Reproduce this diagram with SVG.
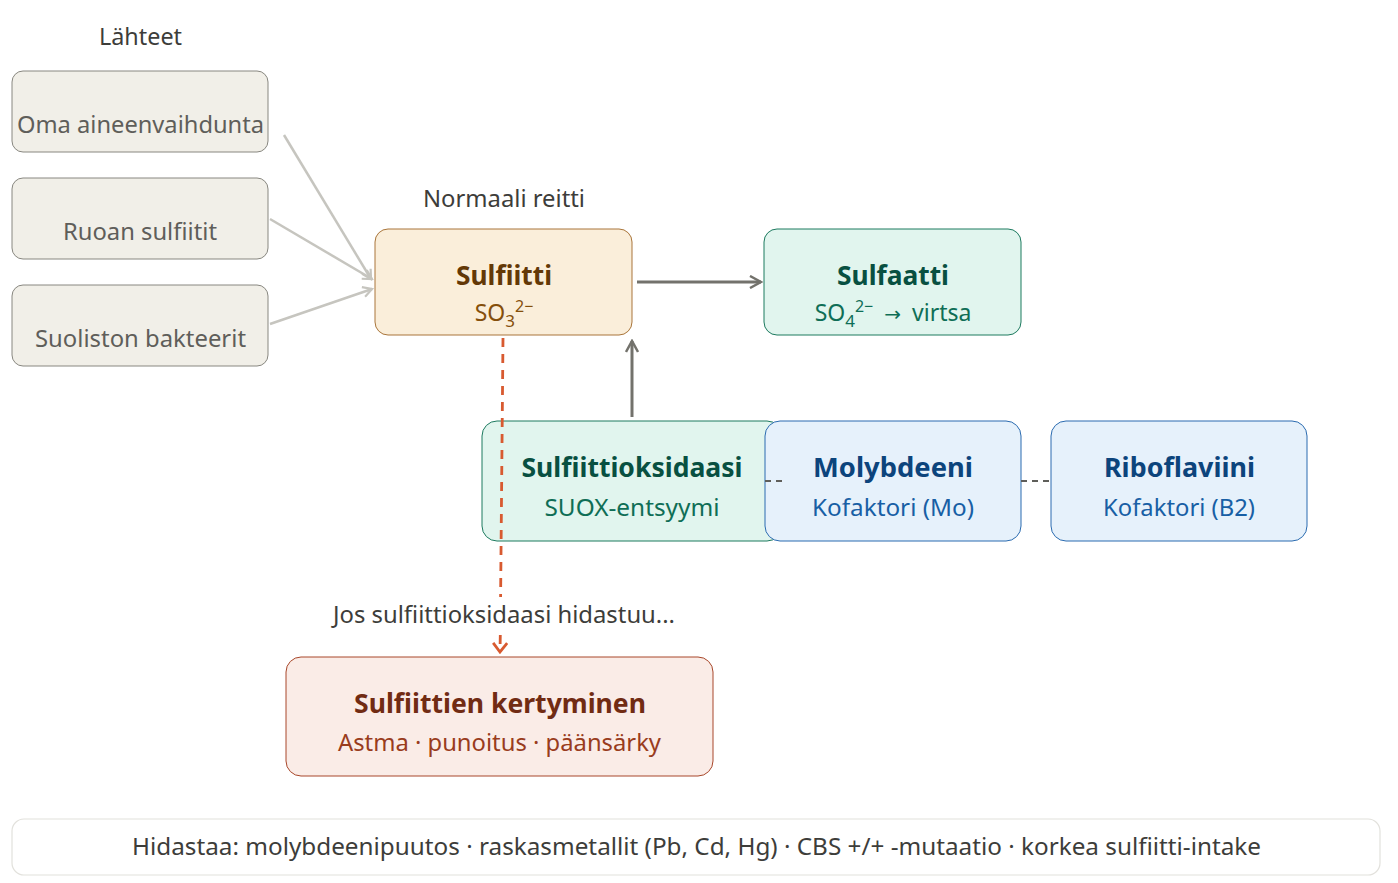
<svg xmlns="http://www.w3.org/2000/svg" width="1398" height="883" viewBox="0 0 1398 883">
<defs>
<style>
text{font-family:"Noto Sans","Open Sans","Liberation Sans",sans-serif;text-anchor:middle}
.lbl{font-size:23px;fill:#3d3d3a}
.src rect{fill:#f1efe8;stroke:#888780;stroke-width:1}
.src text{font-size:23px;fill:#5f5e5a}
.t{font-size:26px;font-weight:700}
.s{font-size:23px}
.amber rect{fill:#faeeda;stroke:#a9753a;stroke-width:1}
.amber .t{fill:#633806}.amber .s{fill:#854f0b}
.teal rect{fill:#e1f5ee;stroke:#1d7a5f;stroke-width:1}
.teal .t{fill:#085041}.teal .s{fill:#0f6e56}
.blue rect{fill:#e6f1fb;stroke:#2a6bb0;stroke-width:1}
.blue .t{fill:#0c447c}.blue .s{fill:#185fa5}
.coral rect{fill:#faece7;stroke:#a8472a;stroke-width:1}
.coral .t{fill:#712b13}.coral .s{fill:#993c1d}
.srcline{stroke:#c6c5bf;stroke-width:2.5;fill:none}
.main{stroke:#73726c;stroke-width:3;fill:none}
.dash{stroke:#5f5e5a;stroke-width:2;stroke-dasharray:6 5;fill:none}
.red{stroke:#d85a30;stroke-width:2.8;stroke-dasharray:9 7;fill:none}
</style>
<marker id="ag" viewBox="0 0 12 12" refX="10" refY="6" markerWidth="12" markerHeight="12" markerUnits="userSpaceOnUse" orient="auto"><path d="M1,1 L10,6 L1,11" fill="none" stroke="#c6c5bf" stroke-width="2.2"/></marker>
<marker id="am" viewBox="0 0 14 14" refX="12" refY="7" markerWidth="14" markerHeight="14" markerUnits="userSpaceOnUse" orient="auto"><path d="M1,1 L12,7 L1,13" fill="none" stroke="#73726c" stroke-width="2.5"/></marker>
<marker id="ar" viewBox="0 0 12 16" refX="10" refY="8" markerWidth="12" markerHeight="16" markerUnits="userSpaceOnUse" orient="auto"><path d="M1,1 L10,8 L1,15" fill="none" stroke="#d85a30" stroke-width="2.8"/></marker>
</defs>
<rect width="1398" height="883" fill="#ffffff"/>

<text id="lahteet" class="lbl" x="140.5" y="45" textLength="83" lengthAdjust="spacingAndGlyphs">Lähteet</text>
<text id="normaali" class="lbl" x="504" y="207" textLength="162" lengthAdjust="spacingAndGlyphs">Normaali reitti</text>

<g id="oma" class="src"><rect x="12" y="71" width="256" height="81" rx="11"/><text x="140.5" y="133" textLength="247" lengthAdjust="spacingAndGlyphs">Oma aineenvaihdunta</text></g>
<g id="ruoan" class="src"><rect x="12" y="178" width="256" height="81" rx="11"/><text x="140" y="240" textLength="154" lengthAdjust="spacingAndGlyphs">Ruoan sulfiitit</text></g>
<g id="suoliston" class="src"><rect x="12" y="285" width="256" height="81" rx="11"/><text x="140.5" y="347" textLength="211" lengthAdjust="spacingAndGlyphs">Suoliston bakteerit</text></g>

<g id="sulfiitti" class="amber"><rect x="375" y="229" width="257" height="106" rx="13"/><text class="t" x="504" y="285" textLength="96" lengthAdjust="spacingAndGlyphs">Sulfiitti</text><text class="s" x="504" y="321">SO<tspan font-size="17" dy="6">3</tspan><tspan font-size="16" dy="-15">2−</tspan></text></g>

<g id="sulfaatti" class="teal"><rect x="764" y="229" width="257" height="106" rx="13"/><text class="t" x="893" y="285" textLength="112" lengthAdjust="spacingAndGlyphs">Sulfaatti</text><text class="s" x="893" y="321">SO<tspan font-size="17" dy="6">4</tspan><tspan font-size="16" dy="-15">2−</tspan><tspan dy="9" dx="5"> <tspan font-family="'DejaVu Sans',sans-serif" font-size="20">→</tspan></tspan><tspan dx="5"> virtsa</tspan></text></g>

<g id="sulfiittioksidaasi" class="teal"><rect x="482" y="421" width="300" height="120" rx="15"/><text class="t" x="632" y="477" textLength="221" lengthAdjust="spacingAndGlyphs">Sulfiittioksidaasi</text><text class="s" x="632" y="516" textLength="175" lengthAdjust="spacingAndGlyphs">SUOX-entsyymi</text></g>

<g id="molybdeeni" class="blue"><rect x="765" y="421" width="256" height="120" rx="15"/><text class="t" x="893" y="477" textLength="160" lengthAdjust="spacingAndGlyphs">Molybdeeni</text><text class="s" x="893" y="516" textLength="162" lengthAdjust="spacingAndGlyphs">Kofaktori (Mo)</text></g>

<g id="riboflaviini" class="blue"><rect x="1051" y="421" width="256" height="120" rx="15"/><text class="t" x="1179.5" y="477" textLength="151" lengthAdjust="spacingAndGlyphs">Riboflaviini</text><text class="s" x="1179" y="516" textLength="152" lengthAdjust="spacingAndGlyphs">Kofaktori (B2)</text></g>

<g id="kertyminen" class="coral"><rect x="286" y="657" width="427" height="119" rx="15"/><text class="t" x="500" y="713" textLength="292" lengthAdjust="spacingAndGlyphs">Sulfiittien kertyminen</text><text class="s" x="499.5" y="751" textLength="323" lengthAdjust="spacingAndGlyphs">Astma · punoitus · päänsärky</text></g>

<g id="hidastaa"><rect x="12" y="819" width="1368" height="56" rx="12" fill="#ffffff" stroke="#e2e1dc" stroke-width="1.2"/><text class="lbl" x="696.5" y="855" textLength="1129" lengthAdjust="spacingAndGlyphs">Hidastaa: molybdeenipuutos · raskasmetallit (Pb, Cd, Hg) · CBS +/+ -mutaatio · korkea sulfiitti-intake</text></g>

<g id="connectors">
<line class="srcline" x1="284" y1="135" x2="371" y2="279" marker-end="url(#ag)"/>
<line class="srcline" x1="270" y1="219" x2="372" y2="279" marker-end="url(#ag)"/>
<line class="srcline" x1="270" y1="324" x2="372" y2="289" marker-end="url(#ag)"/>
<line class="main" x1="637" y1="282" x2="761" y2="282" marker-end="url(#am)"/>
<line class="main" x1="632" y1="417" x2="632" y2="341" marker-end="url(#am)"/>
<line class="dash" x1="765" y1="481" x2="785" y2="481"/>
<line class="dash" x1="1021" y1="481" x2="1051" y2="481"/>
<path class="red" d="M503,338 L500.6,597"/>
<path class="red" d="M500.3,635 L500,652" stroke-dasharray="3 5" marker-end="url(#ar)"/>
<text id="jos" class="lbl" x="504" y="623" textLength="342" lengthAdjust="spacingAndGlyphs">Jos sulfiittioksidaasi hidastuu...</text>
</g>
</svg>
